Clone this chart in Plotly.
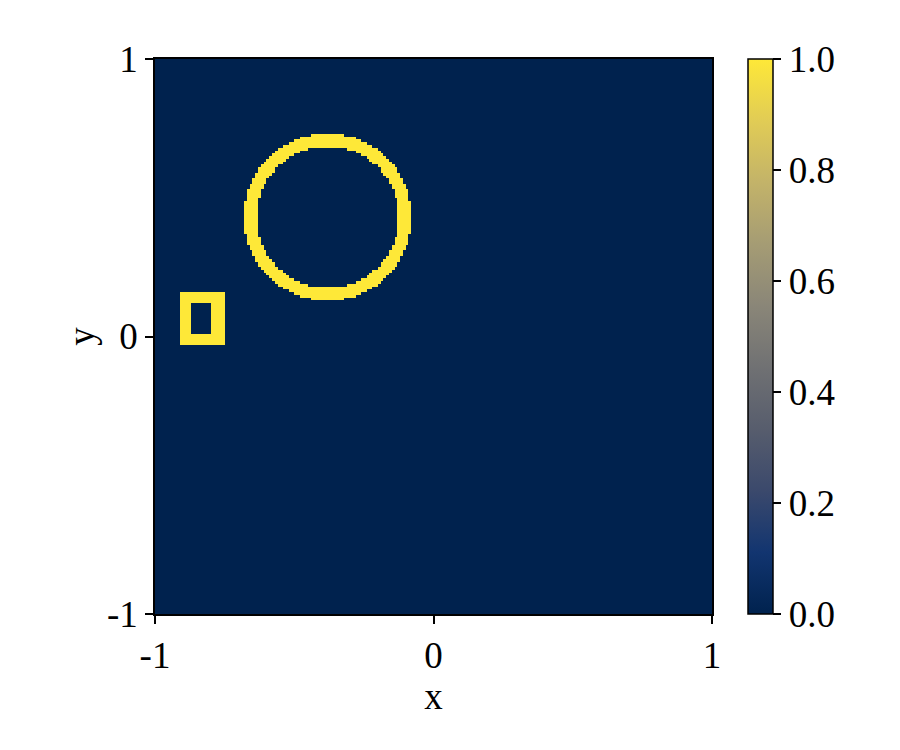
import numpy as np
import plotly.graph_objects as go

# Grid definition
n_cells = 200
x_range = [-1.0, 1.0]
y_range = [-1.0, 1.0]

# Shapes drawn in the field (value 1 on the shape, 0 elsewhere)
ring_center = [-0.38, 0.43]
ring_radii = [0.255, 0.302]          # inner / outer radius of the ring
rect_outer = [-0.91, -0.75, -0.03, 0.16]   # x0, x1, y0, y1
rect_inner = [-0.87, -0.80, 0.01, 0.12]

tick_vals = [-1, 0, 1]
tick_text = ["-1", "0", "1"]
cbar_ticks = [0.0, 0.2, 0.4, 0.6, 0.8, 1.0]

step = (x_range[1] - x_range[0]) / n_cells
xs = x_range[0] + step * (np.arange(n_cells) + 0.5)
ys = y_range[0] + step * (np.arange(n_cells) + 0.5)
X, Y = np.meshgrid(xs, ys)

R = np.hypot(X - ring_center[0], Y - ring_center[1])
ring = (R >= ring_radii[0]) & (R <= ring_radii[1])
in_outer = (X > rect_outer[0]) & (X < rect_outer[1]) & (Y > rect_outer[2]) & (Y < rect_outer[3])
in_inner = (X > rect_inner[0]) & (X < rect_inner[1]) & (Y > rect_inner[2]) & (Y < rect_inner[3])
Z = (ring | (in_outer & ~in_inner)).astype(float)

font_family = "Liberation Serif"
fs = 37

fig = go.Figure(
    go.Heatmap(
        x=xs, y=ys, z=Z, zmin=0, zmax=1, zsmooth=False,
        colorscale="Cividis",
        colorbar=dict(
            x=1.0646, xanchor="left", y=0.5, yanchor="middle",
            len=1.0, lenmode="fraction", thickness=25,
            xpad=0, ypad=0,
            outlinewidth=1.5, outlinecolor="black",
            ticks="outside", ticklen=8, tickwidth=1.5, tickcolor="black",
            tickvals=cbar_ticks, ticktext=[f"{v:.1f}" for v in cbar_ticks],
            tickfont=dict(family=font_family, size=fs, color="black"),
        ),
        showscale=True,
    )
)

axis_common = dict(
    range=[-1, 1], showgrid=False, zeroline=False,
    showline=True, mirror=True, linecolor="black", linewidth=1.5,
    ticks="outside", ticklen=8, tickwidth=1.5, tickcolor="black",
    tickvals=tick_vals, ticktext=tick_text,
    tickfont=dict(family=font_family, size=fs, color="black"),
)

fig.update_layout(
    width=884, height=734,
    margin=dict(l=147, r=180, t=51, b=128),
    paper_bgcolor="white", plot_bgcolor="white",
    font=dict(family=font_family, size=fs, color="black"),
    xaxis=dict(**axis_common, title=dict(text="x", font=dict(family=font_family, size=fs), standoff=6)),
    yaxis=dict(**axis_common, title=dict(text="y", font=dict(family=font_family, size=fs), standoff=1)),
)

fig.write_html("out.html")
